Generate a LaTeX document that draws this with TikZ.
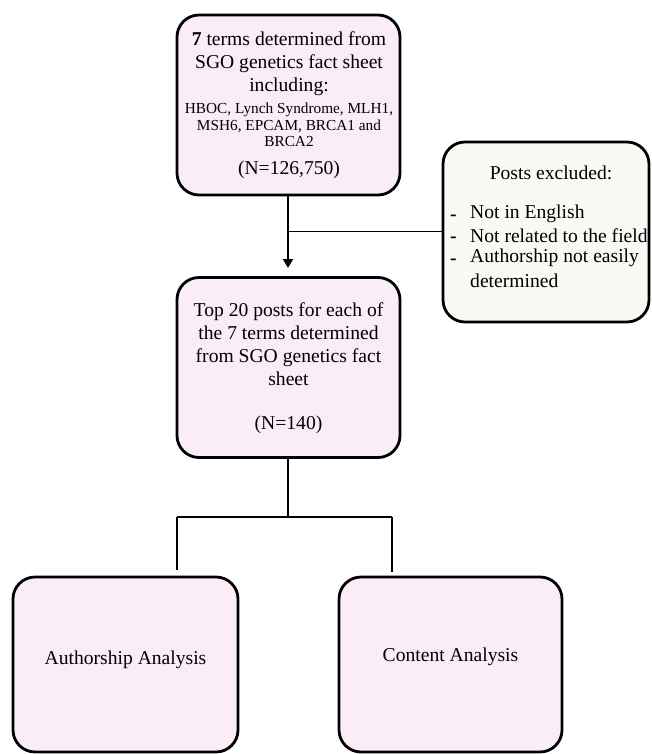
\documentclass[tikz,border=0pt]{standalone}
\usepackage{fontspec}
\setmainfont{Liberation Serif}
\usetikzlibrary{arrows.meta}
\definecolor{pinkfill}{HTML}{FAEDF7}
\definecolor{creamfill}{HTML}{FAF9F3}
\newcommand{\bigsz}{\fontsize{19.6}{23}\selectfont}
\newcommand{\smallsz}{\fontsize{15.3}{16.7}\selectfont}
\tikzset{
  box/.style={draw=black, line width=2.8pt, rounded corners=22pt, inner sep=0pt},
  pinkbox/.style={box, fill=pinkfill},
  creambox/.style={box, fill=creamfill},
  conn/.style={draw=black, line width=1.9pt},
  txt/.style={align=center, inner sep=0pt, font=\bigsz},
  listtxt/.style={anchor=west, inner sep=0pt, font=\bigsz},
  dashmark/.style={anchor=west, inner sep=0pt, font=\bigsz\bfseries}
}
\begin{document}
\begin{tikzpicture}[x=1pt,y=-1pt]
\useasboundingbox (0,0) rectangle (652,754);
% boxes
\node[pinkbox, minimum width=223pt, minimum height=180pt] (top) at (288.5,105) {};
\node[pinkbox, minimum width=223pt, minimum height=180pt] (mid) at (288.5,367.5) {};
\node[creambox, minimum width=206pt, minimum height=180pt] (excl) at (546,232) {};
\node[pinkbox, minimum width=225pt, minimum height=175pt] (auth) at (125.5,664.5) {};
\node[pinkbox, minimum width=223pt, minimum height=175pt] (cont) at (450.5,664.5) {};
% texts
\node[txt] (toptext1) at (289,64) {\textbf{7} terms determined from\\SGO genetics fact sheet\\including:};
\node[align=center, inner sep=0pt, font=\smallsz] (toptext2) at (289,125) {HBOC, Lynch Syndrome, MLH1,\\MSH6, EPCAM, BRCA1 and\\BRCA2};
\node[txt] (toptext3) at (289,170) {(N=126,750)};
\node[txt] (midtext) at (288.5,344) {Top 20 posts for each of\\the 7 terms determined\\from SGO genetics fact\\sheet};
\node[txt] (midn) at (288.5,425) {(N=140)};
\node[txt] (excltitle) at (551,173) {Posts excluded:};
\node[dashmark] (d1) at (450,218) {-};
\node[dashmark] (d2) at (450,240) {-};
\node[dashmark] (d3) at (450,262) {-};
\node[listtxt] (l1) at (470,214) {Not in English};
\node[listtxt] (l2) at (470,236) {Not related to the field};
\node[listtxt] (l3) at (470,258) {Authorship not easily};
\node[listtxt] (l4) at (470,281) {determined};
\node[txt] (authtext) at (125.5,660) {Authorship Analysis};
\node[txt] (conttext) at (450.5,657) {Content Analysis};
% connectors
\coordinate (topout) at (288,195);
\coordinate (arrowtip) at (288,268);
\coordinate (branch) at (288,231.5);
\draw[conn, -{Triangle[length=9pt,width=10pt]}] (topout) -- (arrowtip);
\draw[conn] (branch) -- (excl.west |- branch);
\coordinate (midout) at (288,458);
\coordinate (split) at (288,517);
\coordinate (splitL) at (177,517);
\coordinate (splitR) at (392,517);
\coordinate (endL) at (177,570);
\coordinate (endR) at (392,572);
\draw[conn] (midout) -- (split);
\draw[conn] (splitL) -- (splitR);
\draw[conn] (splitL) -- (endL);
\draw[conn] (splitR) -- (endR);
\end{tikzpicture}
\end{document}
